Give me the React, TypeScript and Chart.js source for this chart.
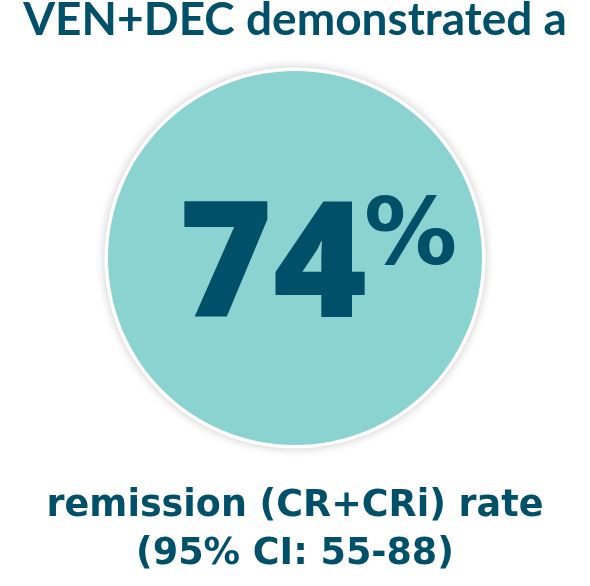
import { useEffect, useRef } from 'react';
import { Chart, registerables } from 'chart.js';

Chart.register(...registerables);

// data
const segmentLabels = ['CR+CRi'];
const remissionRate = [74];
const ciBounds = [55, 88];
const headline = 'VEN+DEC demonstrated a';
const footerLines = [
    'remission (CR+CRi) rate',
    `(95% CI: ${ciBounds[0]}-${ciBounds[1]})`,
];

const DARK = '#00506A';
const TEAL = '#8AD3D0';
const TITLE_FONT = "Lato, 'Noto Sans', sans-serif";
const BODY_FONT = "'DejaVu Sans', Lato, sans-serif";
const NUM_FONT = "'Open Sans', Lato, sans-serif";

// white ring + soft shadow behind the circle, big number on top
const badgePlugin = {
    id: 'badge',
    beforeDatasetsDraw(chart: any) {
        const arc = chart.getDatasetMeta(0).data[0];
        if (!arc) return;
        const { x, y, outerRadius } = arc.getProps(['x', 'y', 'outerRadius'], true);
        const ctx = chart.ctx;
        ctx.save();
        ctx.shadowColor = 'rgba(0,0,0,0.22)';
        ctx.shadowBlur = 10;
        ctx.beginPath();
        ctx.arc(x, y, outerRadius + 3.5, 0, Math.PI * 2);
        ctx.fillStyle = '#ffffff';
        ctx.fill();
        ctx.restore();
    },
    afterDatasetsDraw(chart: any) {
        const arc = chart.getDatasetMeta(0).data[0];
        if (!arc) return;
        const { x, y } = arc.getProps(['x', 'y'], true);
        const ctx = chart.ctx;
        const value = String(chart.data.datasets[0].data[0]);
        ctx.save();
        ctx.fillStyle = DARK;
        ctx.textBaseline = 'alphabetic';
        ctx.font = `800 161px ${NUM_FONT}`;
        ctx.textAlign = 'right';
        ctx.fillText(value, x + 72, y + 59);
        ctx.font = `bold 93px ${BODY_FONT}`;
        ctx.textAlign = 'left';
        ctx.fillText('%', x + 69, y + 6);
        ctx.restore();
    },
};

const App = () => {
    const canvasRef = useRef<HTMLCanvasElement>(null);

    useEffect(() => {
        if (!canvasRef.current) return;
        const chart = new Chart(canvasRef.current, {
            type: 'pie',
            data: {
                labels: segmentLabels,
                datasets: [
                    {
                        data: remissionRate,
                        backgroundColor: TEAL,
                        borderWidth: 0,
                        hoverOffset: 0,
                    },
                ],
            },
            options: {
                animation: false,
                responsive: true,
                maintainAspectRatio: false,
                events: [],
                layout: { padding: 0 },
                plugins: {
                    legend: { display: false },
                    tooltip: { enabled: false },
                    title: {
                        display: true,
                        text: headline,
                        color: DARK,
                        font: { family: TITLE_FONT, size: 46, weight: 'bold', lineHeight: 0.85 },
                        padding: { top: 0.5, bottom: 31.4 },
                    },
                    subtitle: {
                        display: true,
                        position: 'bottom',
                        text: footerLines,
                        color: DARK,
                        font: { family: BODY_FONT, size: 36.5, weight: 'bold', lineHeight: 1.315 },
                        padding: { top: 37.4, bottom: 7.6 },
                    },
                },
            },
            plugins: [badgePlugin],
        });
        return () => chart.destroy();
    }, []);

    return (
        <div style={{ position: 'absolute', left: 0, top: 0, width: 590, height: 586, background: '#fff' }}>
            <canvas ref={canvasRef}></canvas>
        </div>
    );
};

export default App;
